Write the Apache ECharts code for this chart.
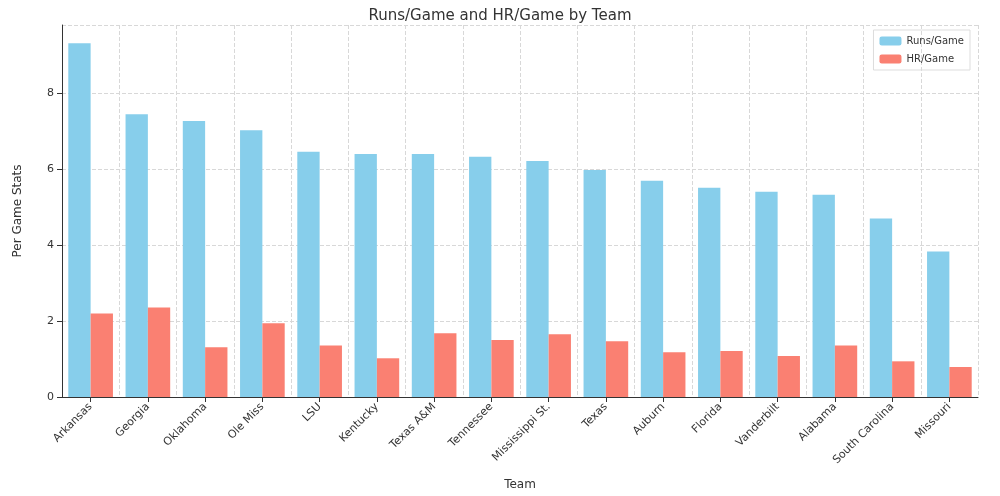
<!DOCTYPE html>
<html><head><meta charset="utf-8">
<script src="https://cdn.jsdelivr.net/npm/echarts@6/dist/echarts.min.js"></script>
<style>html,body{margin:0;background:#fff}#c{width:1000px;height:496px}</style>
</head><body><div id="c"></div>
<script>
const teams = ['Arkansas','Georgia','Oklahoma','Ole Miss','LSU','Kentucky','Texas A&M','Tennessee','Mississippi St.','Texas','Auburn','Florida','Vanderbilt','Alabama','South Carolina','Missouri'];
const runsPerGame = [9.32,7.45,7.27,7.03,6.46,6.40,6.40,6.33,6.22,5.98,5.70,5.51,5.41,5.33,4.70,3.83];
const hrPerGame = [2.20,2.36,1.31,1.94,1.36,1.02,1.68,1.50,1.65,1.47,1.18,1.21,1.08,1.36,0.94,0.79];

const chart = echarts.init(document.getElementById('c'));
const grid = { show: true, lineStyle: { color: '#d8d8d8', type: 'dashed' } };
chart.setOption({
  textStyle: { fontFamily: 'DejaVu Sans' },
  title: { text: 'Runs/Game and HR/Game by Team', left: 'center', top: 4,
    textStyle: { fontSize: 15, fontWeight: 'normal', color: '#333' } },
  legend: { orient: 'vertical', right: 30, top: 30, itemWidth: 22, itemHeight: 9,
    textStyle: { fontSize: 10, color: '#333' }, borderColor: '#ddd', borderWidth: 1, padding: 6,
    data: ['Runs/Game', 'HR/Game'] },
  grid: { left: 62, right: 22, top: 25, bottom: 98 },
  xAxis: { type: 'category', data: teams, name: 'Team', nameLocation: 'middle', nameGap: 82,
    nameTextStyle: { fontSize: 12, color: '#333' },
    axisTick: { show: true, alignWithLabel: true, lineStyle: { color: '#333' } },
    axisLine: { lineStyle: { color: '#333' } },
    axisLabel: { rotate: 45, fontSize: 11, color: '#333', interval: 0 },
    splitLine: grid },
  yAxis: { type: 'value', min: 0, max: 9.8, interval: 2, name: 'Per Game Stats',
    nameLocation: 'middle', nameGap: 38, nameTextStyle: { fontSize: 12, color: '#333' },
    axisLine: { show: true, lineStyle: { color: '#333' } }, axisTick: { show: true },
    axisLabel: { fontSize: 11, color: '#333', showMaxLabel: false },
    splitLine: grid },
  series: [
    { name: 'Runs/Game', type: 'bar', data: runsPerGame, barGap: '0%', barCategoryGap: '22%',
      itemStyle: { color: '#87ceeb' } },
    { name: 'HR/Game', type: 'bar', data: hrPerGame, itemStyle: { color: '#fa8072' } }
  ]
});
</script></body></html>
